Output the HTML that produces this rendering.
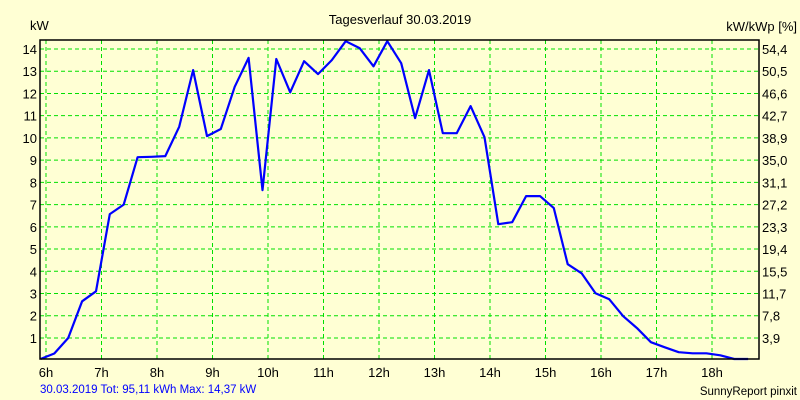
<!DOCTYPE html>
<html><head><meta charset="utf-8"><style>
body{margin:0;background:#ffffd4;}
svg{display:block;font-family:"Liberation Sans",sans-serif;}
</style></head><body>
<svg id="chart" width="800" height="400" viewBox="0 0 800 400">
<rect x="0" y="0" width="800" height="400" fill="#ffffd4"/>
<text x="400" y="24" font-size="13" text-anchor="middle" fill="#000">Tagesverlauf 30.03.2019</text>
<text x="30" y="30" font-size="13" fill="#000">kW</text>
<text x="797" y="31" font-size="13" text-anchor="end" fill="#000">kW/kWp [%]</text>
<g id="grid"></g>
<g id="labels"></g>
<polyline id="series" fill="none" stroke="#0000ff" stroke-width="2.2" stroke-linejoin="round"/>
<rect x="40" y="40" width="719" height="319" fill="none" stroke="#000" stroke-width="1.5"/>
<text x="40" y="393" font-size="11.5" fill="#0000ff">30.03.2019 Tot: 95,11 kWh Max: 14,37 kW</text>
<text x="797" y="395" font-size="11.5" text-anchor="end" fill="#000">SunnyReport pinxit</text>
</svg>
<script>
const hourTicks = [6,7,8,9,10,11,12,13,14,15,16,17,18];
const kwTicks = [1,2,3,4,5,6,7,8,9,10,11,12,13,14];
const pctLabels = ["3,9","7,8","11,7","15,5","19,4","23,3","27,2","31,1","35,0","38,9","42,7","46,6","50,5","54,4"];
const startHour = 5.9;
const stepHours = 0.25;
const powerKw = [0.04,0.3,1.0,2.65,3.1,6.57,7.0,9.13,9.15,9.18,10.5,13.05,10.08,10.4,12.3,13.6,7.65,13.55,12.05,
13.45,12.87,13.5,14.35,14.04,13.22,14.35,13.36,10.89,13.05,10.21,10.21,11.43,10.03,6.12,6.21,7.38,7.38,
6.84,4.32,3.91,3.01,2.74,1.98,1.44,0.81,0.58,0.36,0.31,0.31,0.22,0.02,0.02];

const NS="http://www.w3.org/2000/svg";
function xs(h){return 46+55.5*(h-6);}
function ys(v){return 360.2-22.23*v;}
const grid=document.getElementById('grid');
const labels=document.getElementById('labels');
hourTicks.forEach(h=>{
  const l=document.createElementNS(NS,'line');
  
  
  l.setAttribute('x1',xs(h));l.setAttribute('x2',xs(h));l.setAttribute('y1',40);l.setAttribute('y2',359);
  l.setAttribute('stroke','#00e000');l.setAttribute('stroke-dasharray','4,3');
  grid.appendChild(l);
  const t=document.createElementNS(NS,'text');
  
  
  t.setAttribute('x',xs(h));t.setAttribute('y',377);t.setAttribute('font-size','13');t.setAttribute('text-anchor','middle');
  t.textContent=h+'h';labels.appendChild(t);
});
kwTicks.forEach((v,i)=>{
  const l=document.createElementNS(NS,'line');
  
  
  l.setAttribute('x1',40);l.setAttribute('x2',759);l.setAttribute('y1',ys(v));l.setAttribute('y2',ys(v));
  l.setAttribute('stroke','#00e000');l.setAttribute('stroke-dasharray','4,3');
  grid.appendChild(l);
  const t=document.createElementNS(NS,'text');
  
  
  t.setAttribute('x',37);t.setAttribute('y',ys(v)+5);t.setAttribute('font-size','13');t.setAttribute('text-anchor','end');
  t.textContent=v;labels.appendChild(t);
  const r=document.createElementNS(NS,'text');
  
  
  r.setAttribute('x',762);r.setAttribute('y',ys(v)+5);r.setAttribute('font-size','13');
  r.textContent=pctLabels[i];labels.appendChild(r);
});
document.getElementById('series').setAttribute('points',
  powerKw.map((v,i)=>Math.min(759,xs(startHour+i*stepHours)).toFixed(1)+','+Math.min(359,ys(v)).toFixed(1)).join(' '));
</script>
</body></html>
